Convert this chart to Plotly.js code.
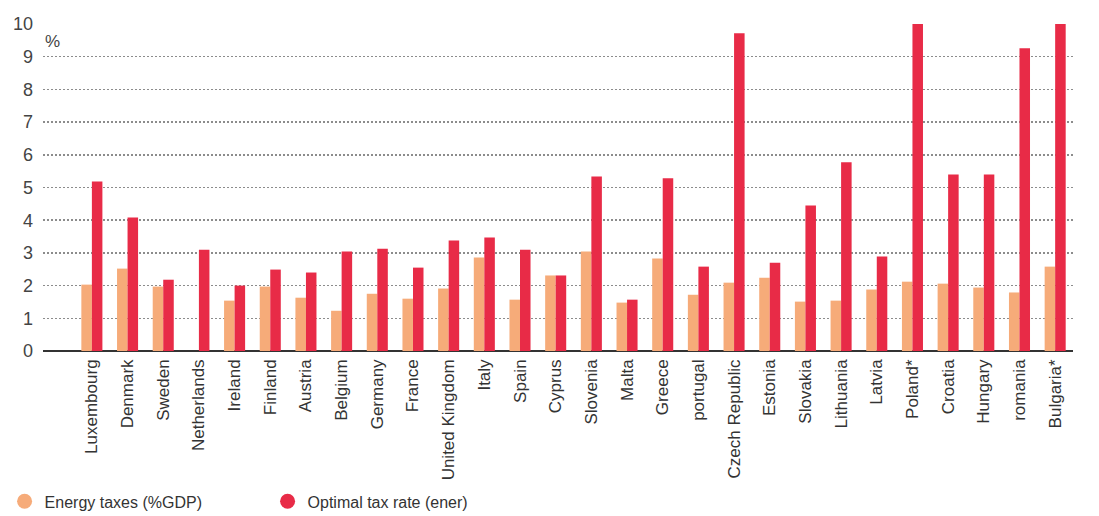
<!DOCTYPE html>
<html>
<head>
<meta charset="utf-8">
<script src="https://cdn.plot.ly/plotly-3.0.1.min.js"></script>
<style>html,body{margin:0;padding:0;background:#fff;}#chart{width:1099px;height:516px;}</style>
</head>
<body>
<div id="chart"></div>
<script>
const countries = ["Luxembourg","Denmark","Sweden","Netherlands","Ireland","Finland","Austria","Belgium","Germany","France","United Kingdom","Italy","Spain","Cyprus","Slovenia","Malta","Greece","portugal","Czech Republic","Estonia","Slovakia","Lithuania","Latvia","Poland*","Croatia","Hungary","romania","Bulgaria*"];
const energyTaxes = [2.03,2.52,1.97,0,1.54,1.97,1.63,1.23,1.75,1.60,1.91,2.86,1.57,2.31,3.04,1.48,2.83,1.72,2.09,2.24,1.51,1.54,1.88,2.12,2.06,1.94,1.79,2.58];
const optimalRate = [5.18,4.08,2.18,3.10,2.00,2.49,2.40,3.04,3.13,2.55,3.38,3.47,3.10,2.31,5.34,1.57,5.28,2.58,9.72,2.70,4.45,5.77,2.89,10.0,5.40,5.40,9.26,10.0];
const seriesNames = ["Energy taxes (%GDP)","Optimal tax rate (ener)"];
const colors = ["#F6AB79","#E82B47"];
const yTicks = [0,1,2,3,4,5,6,7,8,9,10];

const font = "Liberation Sans, Arial, sans-serif";
const data = [
  {type:"bar", x:countries, y:energyTaxes, name:seriesNames[0], marker:{color:colors[0]}, showlegend:false, hoverinfo:"y"},
  {type:"bar", x:countries, y:optimalRate, name:seriesNames[1], marker:{color:colors[1]}, showlegend:false, hoverinfo:"y"},
  {type:"scatter", mode:"markers", x:[null], y:[null], name:seriesNames[0], marker:{color:colors[0], size:15, symbol:"circle"}, showlegend:true},
  {type:"scatter", mode:"markers", x:[null], y:[null], name:seriesNames[1], marker:{color:colors[1], size:15, symbol:"circle"}, showlegend:true}
];
const layout = {
  width:1099, height:516,
  margin:{l:43, r:26, t:24, b:165, autoexpand:false},
  paper_bgcolor:"#fff", plot_bgcolor:"#fff",
  font:{family:font, color:"#333"},
  barmode:"group", bargap:0.41, bargroupgap:0,
  xaxis:{type:"category", range:[-1.37,27.5], tickangle:-90, tickfont:{size:17, color:"#333"}, showgrid:false, showline:false, zeroline:false, ticks:"", ticklabelstandoff:4, automargin:false, fixedrange:true},
  yaxis:{range:[0,10], tickvals:yTicks, ticktext:yTicks.map(String), tickfont:{size:18, color:"#444"}, showgrid:true, gridcolor:"#8c8c8c", griddash:"2px,2px", gridwidth:1.5, zeroline:true, zerolinecolor:"#333", zerolinewidth:1.5, showline:false, ticks:"", ticklabelstandoff:9, automargin:false, fixedrange:true},
  legend:{orientation:"h", x:-0.0373, xanchor:"left", y:-0.46, yanchor:"middle", font:{size:16, color:"#333"}, entrywidth:218, entrywidthmode:"pixels", itemwidth:30},
  annotations:[{xref:"paper", yref:"y", x:0, y:9.47, xanchor:"left", yanchor:"middle", text:"%", showarrow:false, font:{size:17, color:"#444"}}]
};
Plotly.newPlot("chart", data, layout, {displayModeBar:false, staticPlot:true});
</script>
</body>
</html>
